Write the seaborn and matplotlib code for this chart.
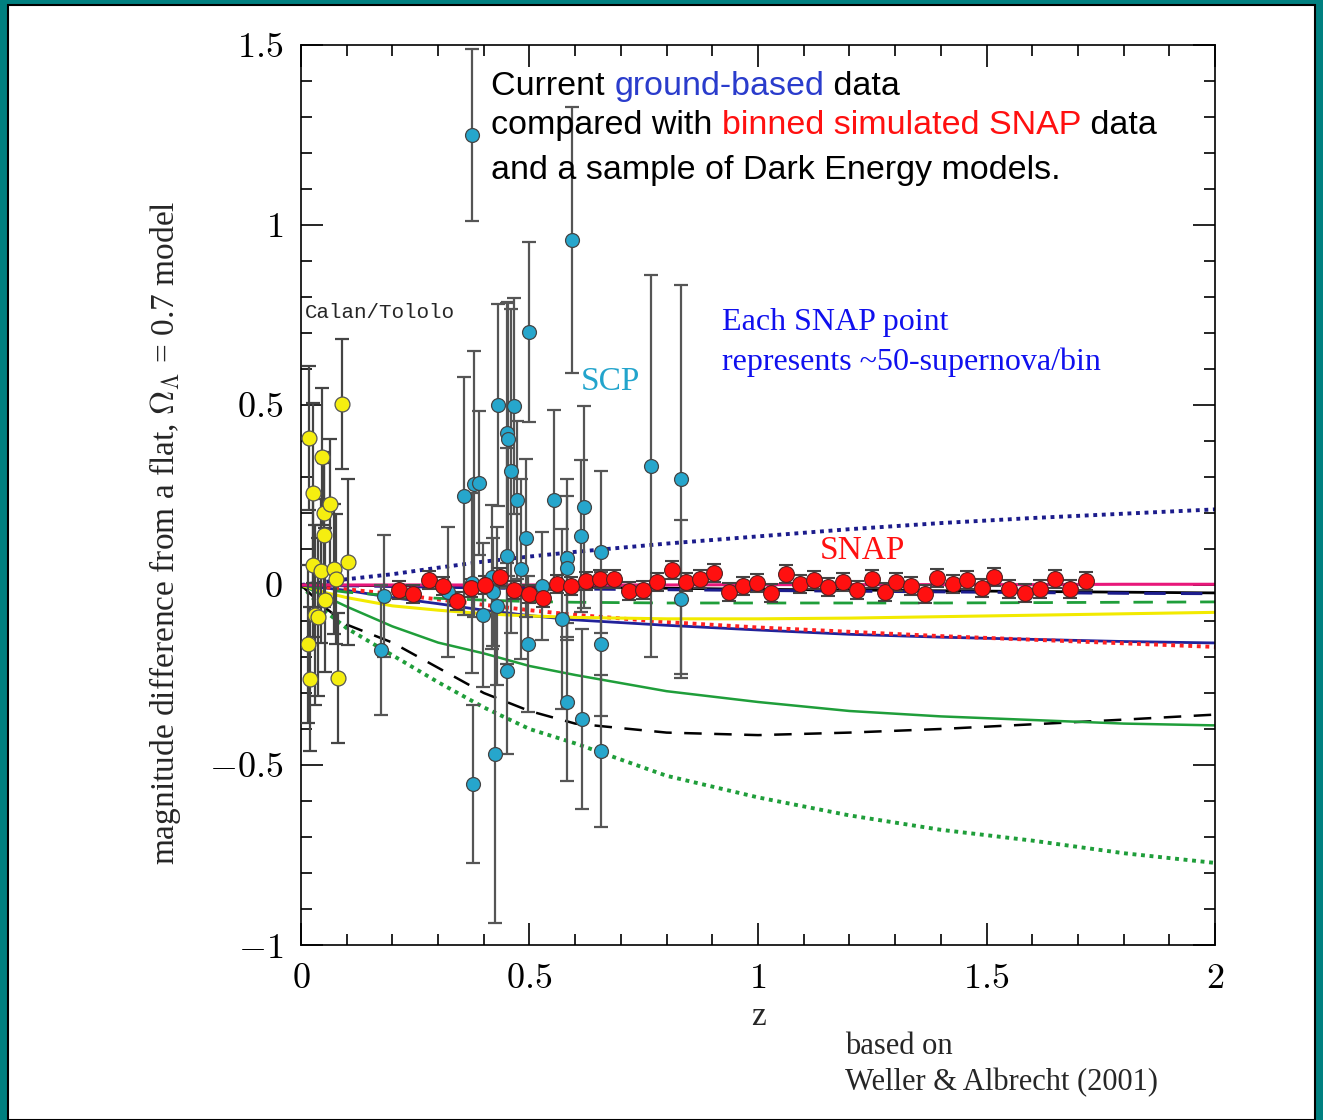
# Magnitude residuals vs redshift: ground-based SNe, binned SNAP simulation, dark energy models
import numpy as np
import pandas as pd
import matplotlib
matplotlib.use("Agg")
import matplotlib.pyplot as plt
from matplotlib.patches import Rectangle
from matplotlib.ticker import MultipleLocator
import seaborn as sns

# Calan/Tololo (yellow)
ct_z = [0.015, 0.018, 0.020, 0.026, 0.026, 0.031, 0.037, 0.044, 0.046, 0.050,
        0.050, 0.053, 0.063, 0.072, 0.077, 0.081, 0.090, 0.103]
ct_dm = [-0.164, 0.408, -0.261, 0.256, 0.056, -0.083, -0.089, 0.039, 0.356, 0.200,
         0.139, -0.042, 0.225, 0.044, 0.017, -0.258, 0.503, 0.064]
ct_err = [0.22, 0.20, 0.20, 0.25, 0.20, 0.25, 0.22, 0.20, 0.19, 0.17,
          0.20, 0.20, 0.18, 0.18, 0.18, 0.18, 0.18, 0.23]

# SCP (cyan)
scp_z = [0.175, 0.182, 0.322, 0.357, 0.374, 0.374, 0.376, 0.379, 0.389, 0.398,
         0.418, 0.420, 0.425, 0.429, 0.431, 0.451, 0.453, 0.451, 0.451, 0.459,
         0.466, 0.473, 0.481, 0.492, 0.497, 0.499, 0.527, 0.554, 0.571, 0.582,
         0.582, 0.582, 0.593, 0.613, 0.615, 0.619, 0.656, 0.656, 0.656, 0.766,
         0.831, 0.831]
scp_dm = [-0.181, -0.031, -0.019, 0.247, 0.006, 1.250, -0.553, 0.281, 0.283, -0.083,
          0.022, -0.019, -0.469, -0.058, 0.500, 0.422, 0.406, 0.081, -0.239, 0.317,
          0.497, 0.236, 0.044, 0.131, -0.164, 0.703, -0.003, 0.236, -0.094, 0.075,
          0.047, -0.325, 0.958, 0.136, -0.372, 0.217, 0.092, -0.164, -0.461, 0.331,
          0.294, -0.039]
scp_err = [0.18, 0.17, 0.18, 0.33, 0.25, 0.24, 0.22, 0.37, 0.20, 0.20,
           0.20, 0.15, 0.47, 0.22, 0.28, 0.36, 0.38, 0.30, 0.23, 0.45,
           0.30, 0.22, 0.25, 0.22, 0.19, 0.25, 0.15, 0.25, 0.25, 0.22,
           0.20, 0.22, 0.37, 0.21, 0.25, 0.28, 0.225, 0.20, 0.21, 0.53,
           0.54, 0.22]

# binned simulated SNAP (red)
snap_z = [0.214, 0.245, 0.280, 0.311, 0.341, 0.372, 0.403, 0.435, 0.466, 0.499,
          0.530, 0.560, 0.591, 0.624, 0.654, 0.685, 0.718, 0.748, 0.779, 0.812,
          0.842, 0.873, 0.904, 0.937, 0.967, 0.998, 1.028, 1.061, 1.092, 1.123,
          1.153, 1.186, 1.217, 1.249, 1.278, 1.302, 1.335, 1.365, 1.392, 1.427,
          1.457, 1.490, 1.516, 1.549, 1.584, 1.617, 1.650, 1.683, 1.718]
snap_dm = [-0.014, -0.025, 0.014, -0.003, -0.044, -0.008, 0.000, 0.022, -0.014, -0.025,
           -0.036, 0.003, -0.003, 0.011, 0.017, 0.017, -0.017, -0.014, 0.008, 0.042,
           0.008, 0.017, 0.033, -0.019, -0.003, 0.006, -0.022, 0.031, 0.003, 0.014,
           -0.006, 0.008, -0.014, 0.017, -0.019, 0.008, -0.003, -0.025, 0.019, 0.003,
           0.014, -0.008, 0.022, -0.011, -0.022, -0.011, 0.017, -0.011, 0.011]
snap_err = 0.025

# dark energy model curves, read at a few redshifts
zc = [0.0, 0.05, 0.1, 0.2, 0.3, 0.4, 0.5, 0.6, 0.8, 1.0, 1.2, 1.4, 1.6, 1.8, 2.0]
m_green_dot = [0, -0.07, -0.12, -0.195, -0.27, -0.34, -0.40, -0.44, -0.53, -0.59,
               -0.64, -0.68, -0.71, -0.745, -0.772]
m_black_dash = [0, -0.06, -0.11, -0.16, -0.23, -0.30, -0.35, -0.385, -0.41, -0.417,
                -0.41, -0.40, -0.387, -0.374, -0.36]
m_green_solid = [0, -0.03, -0.06, -0.115, -0.16, -0.19, -0.225, -0.25, -0.295, -0.325,
                 -0.35, -0.365, -0.375, -0.385, -0.39]
m_blue_solid = [0, -0.008, -0.015, -0.035, -0.052, -0.07, -0.085, -0.097, -0.112, -0.125,
                -0.137, -0.145, -0.151, -0.157, -0.161]
m_red_dot = [0, -0.006, -0.012, -0.025, -0.04, -0.055, -0.07, -0.083, -0.103, -0.118,
             -0.13, -0.142, -0.152, -0.162, -0.172]
m_yellow = [0, -0.02, -0.035, -0.058, -0.07, -0.08, -0.086, -0.09, -0.094, -0.094,
            -0.092, -0.088, -0.084, -0.08, -0.076]
m_green_dash = [0, -0.012, -0.02, -0.03, -0.037, -0.042, -0.046, -0.048, -0.05, -0.05,
                -0.05, -0.05, -0.049, -0.048, -0.047]
m_blue_dot = [0, 0.008, 0.016, 0.03, 0.048, 0.065, 0.079, 0.092, 0.115, 0.135,
              0.155, 0.172, 0.186, 0.198, 0.21]
m_black_solid = [0, 0, -0.001, -0.002, -0.003, -0.004, -0.005, -0.006, -0.009, -0.012,
                 -0.014, -0.016, -0.018, -0.02, -0.022]
m_blue_dash = [0, -0.001, -0.002, -0.004, -0.006, -0.008, -0.01, -0.011, -0.013, -0.015,
               -0.017, -0.019, -0.021, -0.023, -0.024]
m_pink = [0, 0, 0, 0, 0, 0, 0, 0, 0, 0.001, 0.001, 0.001, 0.001, 0.002, 0.002]

sns.set_style("ticks")
plt.rcParams["mathtext.fontset"] = "cm"
plt.rcParams["font.family"] = ["Liberation Serif", "DejaVu Serif"]

fig = plt.figure(figsize=(13.23, 11.2), dpi=100, facecolor="#008080")
fig.add_artist(Rectangle((8 / 1323, 0), 1307 / 1323, 1115 / 1120, transform=fig.transFigure,
                         facecolor="white", edgecolor="black", lw=1.5, zorder=0))
ax = fig.add_axes([0.2275, 0.15625, 0.6909, 0.8036])
ax.set_facecolor("white")

curves = [
    (m_green_dot, "#1f9e3a", (0, (1, 1.2)), 2.8),
    (m_black_dash, "black", (0, (7, 5)), 1.8),
    (m_green_solid, "#1f9e3a", "-", 1.8),
    (m_blue_solid, "#22229a", "-", 2.0),
    (m_red_dot, "#ff2222", (0, (1, 1.2)), 2.8),
    (m_yellow, "#f2ea00", "-", 2.2),
    (m_green_dash, "#1f9e3a", (0, (7, 5)), 2.0),
    (m_blue_dot, "#1c1c8c", (0, (1, 1.2)), 2.8),
    (m_black_solid, "black", "-", 2.0),
    (m_blue_dash, "#1c1c8c", (0, (7, 5)), 2.2),
    (m_pink, "#e8177a", "-", 2.2),
]
for vals, col, ls, lw in curves:
    sns.lineplot(x=zc, y=vals, color=col, linestyle=ls, linewidth=lw, ax=ax, zorder=2)

ax.errorbar(ct_z, ct_dm, yerr=ct_err, fmt="none", ecolor="#444444",
            elinewidth=1.6, capsize=5, capthick=1.6, zorder=3)
ax.errorbar(scp_z, scp_dm, yerr=scp_err, fmt="none", ecolor="#555555",
            elinewidth=1.6, capsize=5, capthick=1.6, zorder=3)
ax.errorbar(snap_z, snap_dm, yerr=snap_err, fmt="none", ecolor="#444444",
            elinewidth=1.2, capsize=5, capthick=1.5, zorder=3)

sns.scatterplot(x=ct_z, y=ct_dm, color="#f5ee10", s=115, edgecolor="#555555",
                linewidth=0.9, ax=ax, zorder=4)
sns.scatterplot(x=scp_z, y=scp_dm, color="#26a6cc", s=100, edgecolor="#444444",
                linewidth=0.9, ax=ax, zorder=4)
sns.scatterplot(x=snap_z, y=snap_dm, color="#ff1010", s=130, edgecolor="#552222",
                linewidth=0.8, ax=ax, zorder=5)

ax.set_xlim(0, 2)
ax.set_ylim(-1, 1.5)
ax.xaxis.set_minor_locator(MultipleLocator(0.1))
ax.yaxis.set_minor_locator(MultipleLocator(0.1))
ax.set_xticks([0, 0.5, 1, 1.5, 2])
ax.set_xticklabels([r"$0$", r"$0.5$", r"$1$", r"$1.5$", r"$2$"])
ax.set_yticks([-1, -0.5, 0, 0.5, 1, 1.5])
ax.set_yticklabels([r"$-1$", r"$-0.5$", r"$0$", r"$0.5$", r"$1$", r"$1.5$"])
ax.tick_params(which="both", direction="in", top=True, right=True, colors="black",
               width=1.2, labelsize=26)
ax.tick_params(which="major", length=16, pad=13)
ax.tick_params(which="minor", length=8)
for sp in ax.spines.values():
    sp.set_linewidth(1.2)
    sp.set_color("black")

ax.set_xlabel("z", fontsize=24, labelpad=4)
fig.text(165 / 1323, 1 - 533 / 1120,
         r"magnitude difference from a flat, $\Omega_\Lambda$ = 0.7 model",
         rotation=90, ha="center", va="center", fontsize=24)

# annotations
ax.text(0.009, 0.758, "Calan/Tololo", fontsize=15, family="Liberation Mono", va="center")
ax.text(0.613, 0.564, "SCP", fontsize=24, color="#22a4cc", va="center")
ax.text(1.136, 0.094, "SNAP", fontsize=24, color="#ff1010", va="center")
ax.text(0.921, 0.728, "Each SNAP point", fontsize=23, color="#1010ee", va="center")
ax.text(0.921, 0.619, "represents ~50-supernova/bin", fontsize=23, color="#1010ee", va="center")
fig.text(845 / 1323, 1 - 1047 / 1120, "based on", fontsize=22, va="center")
fig.text(845 / 1323, 1 - 1083 / 1120, "Weller & Albrecht (2001)", fontsize=22, va="center")

# multicoloured header text
sans = ["Liberation Sans", "DejaVu Sans"]
header = [
    [("Current ", "black"), ("ground-based", "#2a3ccc"), (" data", "black")],
    [("compared with ", "black"), ("binned simulated SNAP", "#ff1010"), (" data", "black")],
    [("and a sample of Dark Energy models.", "black")],
]
line_y = [1.386, 1.275, 1.15]
for parts, yy in zip(header, line_y):
    prev = ax.text(0.4158, yy, parts[0][0], color=parts[0][1], fontsize=24.5,
                   family=sans, va="center", zorder=6)
    for txt, col in parts[1:]:
        prev = ax.annotate(txt, xy=(1, 0), xycoords=prev, va="bottom", ha="left",
                           color=col, fontsize=24.5, family=sans, zorder=6)

fig.savefig("out.png", dpi=100, facecolor=fig.get_facecolor())
